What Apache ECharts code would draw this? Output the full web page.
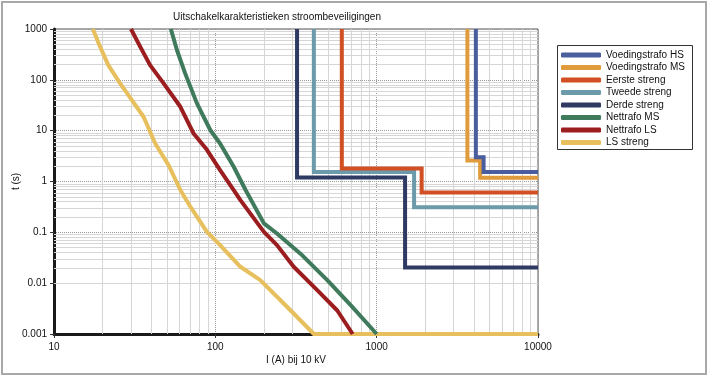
<!DOCTYPE html>
<html>
<head>
<meta charset="utf-8">
<script src="https://cdn.jsdelivr.net/npm/echarts@6/dist/echarts.min.js"></script>
<style>
html,body{margin:0;padding:0;background:#fff;}
#c{width:708px;height:377px;}
</style>
</head>
<body>
<div id="c"></div>
<script>
// Data (I in A, t in s)
const seriesNames = ['Voedingstrafo HS','Voedingstrafo MS','Eerste streng','Tweede streng','Derde streng','Nettrafo MS','Nettrafo LS','LS streng'];
const voedingstrafoHS = [[4120,1000],[4120,3.0],[4600,3.0],[4600,1.53],[10000,1.53]];
const voedingstrafoMS = [[3650,1000],[3650,2.6],[4380,2.6],[4380,1.18],[10000,1.18]];
const eersteStreng = [[608,1000],[608,1.8],[1900,1.8],[1900,0.61],[10000,0.61]];
const tweedeStreng = [[408,1000],[408,1.53],[1706,1.53],[1706,0.31],[10000,0.31]];
const derdeStreng = [[321,1000],[321,1.2],[1500,1.2],[1500,0.0204],[10000,0.0204]];
const nettrafoMS = [[53,1000],[57.8,386],[65,134],[76.9,34.4],[93,10.3],[107,5.6],[130,1.95],[154,0.68],[200,0.15],[241,0.095],[337,0.038],[494,0.0115],[690,0.0037],[1000,0.001]];
const nettrafoLS = [[30,1000],[34.2,449],[39.4,195],[47.8,85],[60.7,29.5],[73.3,8.8],[88.7,4.2],[107,1.68],[130,0.68],[143,0.43],[200,0.102],[241,0.056],[306,0.021],[428,0.0073],[570,0.0029],[710,0.001]];
const lsStreng = [[17.4,1000],[19.3,449],[21.7,195],[25.7,85],[30.4,40],[35.9,18.8],[42.4,5.6],[51.3,2.1],[60.7,0.68],[70,0.32],[88.7,0.102],[107,0.056],[143,0.021],[190,0.0115],[279,0.0034],[408,0.001],[10000,0.001]];
const seriesColors = ['#4a5d9c','#e09b3d','#d14f22','#6b9aaa','#2f3a63','#3e7a5b','#9c1d1f','#e7bf5c'];
const stepSeries = [true,true,true,true,true,false,false,false];
const xMinorGrid = [20,30,40,50,60,70,80,90,200,300,400,500,600,700,800,900,2000,3000,4000,5000,6000,7000,8000,9000];
const yMinorGrid = [0.002,0.003,0.004,0.005,0.006,0.007,0.008,0.009,0.02,0.03,0.04,0.05,0.06,0.07,0.08,0.09,0.2,0.3,0.4,0.5,0.6,0.7,0.8,0.9,2,3,4,5,6,7,8,9,20,30,40,50,60,70,80,90,200,300,400,500,600,700,800,900];
const xTickRange = [10,10000];
const yTickRange = [0.001,1000];
const allData = [voedingstrafoHS,voedingstrafoMS,eersteStreng,tweedeStreng,derdeStreng,nettrafoMS,nettrafoLS,lsStreng];

const fmt = v => String(+(+v).toPrecision(6));
const font = 'Liberation Sans, Arial, sans-serif';

const chart = echarts.init(document.getElementById('c'), null, {renderer:'canvas'});
const series = [{
  name:'__grid', type:'line', data:[], silent:true, z:1,
  markLine:{
    silent:true, symbol:'none', animation:false, z:1,
    label:{show:false},
    lineStyle:{color:'#d6d6d6', width:1, type:'solid'},
    emphasis:{disabled:true},
    data: xMinorGrid.map(v=>({xAxis:v})).concat(yMinorGrid.map(v=>({yAxis:v})))
  }
}];
seriesNames.forEach((n,i)=>{
  series.push({
    name:n, type:'line', data:allData[i], showSymbol:false, symbol:'none',
    z:10+(7-i), animation:false,
    lineStyle:{color:seriesColors[i], width:4, cap:'butt', join: stepSeries[i] ? 'miter' : 'round'},
    itemStyle:{color:seriesColors[i]},
    emphasis:{disabled:true}
  });
});

chart.setOption({
  backgroundColor:'#fff',
  animation:false,
  title:{
    text:'Uitschakelkarakteristieken stroombeveiligingen',
    left:272, top:7, textAlign:'center',
    textStyle:{fontFamily:font, fontSize:10, fontWeight:'normal', color:'#111'}
  },
  legend:{
    data:seriesNames,
    orient:'vertical', left:557, top:45,
    padding:[4,8,2,4],
    itemGap:0.5, itemWidth:40, itemHeight:5,
    icon:'roundRect',
    textStyle:{fontFamily:font, fontSize:10, color:'#111', lineHeight:12},
    selectedMode:false
  },
  grid:{left:54, right:170, top:29, bottom:43, show:true, borderColor:'#555', borderWidth:1, backgroundColor:'#fff', containLabel:false, outerBoundsMode:'none'},
  xAxis:{
    type:'log', logBase:10, min:xTickRange[0], max:xTickRange[1],
    name:'I (A) bij 10 kV', nameLocation:'middle', nameGap:21, nameMoveOverlap:false,
    nameTextStyle:{fontFamily:font, fontSize:10, color:'#111'},
    axisLine:{show:true, lineStyle:{color:'#1a1a1a', width:3}},
    axisTick:{show:true, length:4, lineStyle:{color:'#333'}},
    axisLabel:{fontFamily:font, fontSize:10, color:'#111', margin:8, formatter:fmt},
    splitLine:{show:true, lineStyle:{color:'#9a9a9a', width:1, type:[1,1]}},
    minorTick:{show:false}, minorSplitLine:{show:false}
  },
  yAxis:{
    type:'log', logBase:10, min:yTickRange[0], max:yTickRange[1], splitNumber:6,
    name:'t (s)', nameLocation:'middle', nameGap:33, nameRotate:90, nameMoveOverlap:false,
    nameTextStyle:{fontFamily:font, fontSize:10, color:'#111'},
    axisLine:{show:true, lineStyle:{color:'#1a1a1a', width:3}},
    axisTick:{show:true, length:4, lineStyle:{color:'#333'}},
    axisLabel:{fontFamily:font, fontSize:10, color:'#111', margin:7, formatter:fmt},
    splitLine:{show:true, lineStyle:{color:'#9a9a9a', width:1, type:[1,1]}},
    minorTick:{show:false}, minorSplitLine:{show:false}
  },
  graphic:[{
    type:'rect', silent:true, z:-1,
    shape:{x:2, y:2, width:704, height:372},
    style:{fill:'none', stroke:'#a8a8a8', lineWidth:2}
  },{
    type:'rect', silent:true, z:50,
    shape:{x:557.5, y:45.5, width:135, height:104},
    style:{fill:'none', stroke:'#333', lineWidth:1}
  }],
  series:series
});
</script>
</body>
</html>
